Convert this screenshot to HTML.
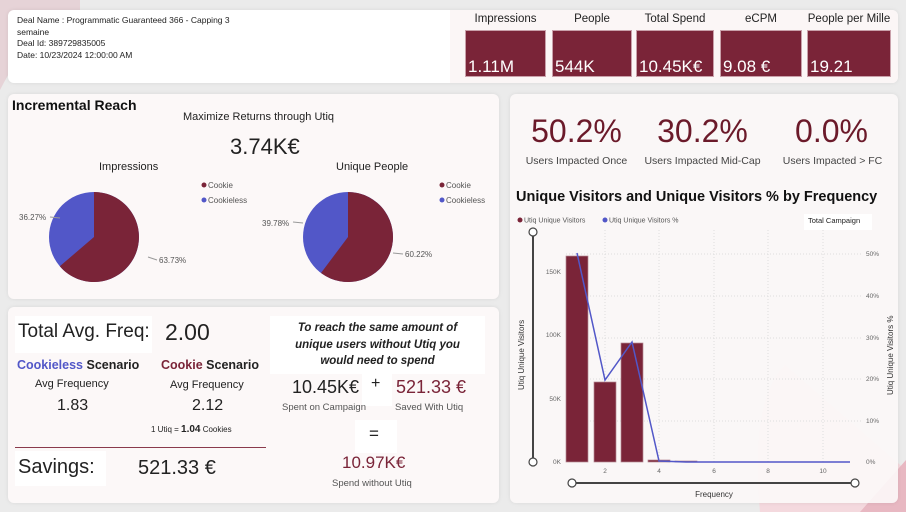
<!DOCTYPE html>
<html><head><meta charset="utf-8"><style>
*{margin:0;padding:0;box-sizing:border-box}
body{width:906px;height:512px;overflow:hidden;background:#ebebeb;font-family:"Liberation Sans",sans-serif;position:relative;color:#222}
.a{position:absolute;white-space:nowrap}
.p{position:absolute;background:#fcf8f8;border-radius:6px;box-shadow:0 0 4px rgba(0,0,0,.08)}
.tile{position:absolute;top:30px;height:47px;background:#7a2438;border:1px solid #c9a0aa;color:#fff;font-size:17px;padding:0 0 0 2px;line-height:17px}
.tile span{position:absolute;bottom:1px;left:2px}
.tl{position:absolute;top:13px;font-size:11.5px;text-align:center;color:#222;white-space:nowrap}
.c{text-align:center}
</style></head><body>
<svg class="a" style="left:0;top:0" width="906" height="512">
<path d="M0 0 L80 0 L80 10 Q30 30 0 90 Z" fill="#e6d3d7"/>
<path d="M760 512 Q750 400 785 365 L906 470 L906 512 Z" fill="#f4d9de"/>
<path d="M860 512 L906 460 L906 512 Z" fill="#e8b8c2"/>
</svg>
<div class="p" style="left:8px;top:10px;width:890px;height:73px;background:#fff"></div>
<div class="a" style="left:17px;top:15px;font-size:8.5px;line-height:11.5px;color:#222">Deal Name : Programmatic Guaranteed 366 - Capping 3<br>semaine<br>Deal Id: 389729835005<br>Date: 10/23/2024 12:00:00 AM</div>
<div class="a" style="left:450px;top:10px;width:448px;height:73px;background:#fbf6f6;border-radius:0 6px 6px 0"></div>
<div class="tl" style="left:465px;width:81px">Impressions</div>
<div class="tl" style="left:552px;width:80px">People</div>
<div class="tl" style="left:636px;width:78px">Total Spend</div>
<div class="tl" style="left:720px;width:82px">eCPM</div>
<div class="tl" style="left:805px;width:88px">People per Mille</div>
<div class="tile" style="left:465px;width:81px"><span>1.11M</span></div>
<div class="tile" style="left:552px;width:80px"><span>544K</span></div>
<div class="tile" style="left:636px;width:78px"><span>10.45K€</span></div>
<div class="tile" style="left:720px;width:82px"><span>9.08 €</span></div>
<div class="tile" style="left:807px;width:84px"><span>19.21</span></div>

<div class="p" style="left:8px;top:94px;width:491px;height:205px"></div>
<div class="a" style="left:12px;top:97px;font-size:14px;font-weight:bold;color:#111">Incremental Reach</div>
<div class="a" style="left:183px;top:111px;font-size:11px">Maximize Returns through Utiq</div>
<div class="a" style="left:230px;top:134px;font-size:22px">3.74K€</div>
<div class="a" style="left:99px;top:161px;font-size:11px">Impressions</div>
<div class="a" style="left:336px;top:161px;font-size:11px">Unique People</div>
<svg class="a" style="left:0;top:0" width="500" height="300">
<circle cx="94" cy="237" r="45" fill="#5257c8"/>
<path d="M94 237 L94 192 A45 45 0 1 1 59.8 266.3 Z" fill="#7a2438"/>
<circle cx="348" cy="237" r="45" fill="#5257c8"/>
<path d="M348 237 L348 192 A45 45 0 1 1 321 273 Z" fill="#7a2438"/>
<g fill="#555" font-size="8" font-family="Liberation Sans">
<text x="19" y="220">36.27%</text><line x1="50" y1="217" x2="60" y2="218" stroke="#999"/>
<text x="159" y="263">63.73%</text><line x1="148" y1="257" x2="157" y2="260" stroke="#999"/>
<text x="262" y="226">39.78%</text><line x1="293" y1="222" x2="303" y2="223" stroke="#999"/>
<text x="405" y="257">60.22%</text><line x1="393" y1="253" x2="403" y2="254" stroke="#999"/>
<circle cx="204" cy="185" r="2.5" fill="#7a2438"/><text x="208" y="188">Cookie</text>
<circle cx="204" cy="200" r="2.5" fill="#5257c8"/><text x="208" y="203">Cookieless</text>
<circle cx="442" cy="185" r="2.5" fill="#7a2438"/><text x="446" y="188">Cookie</text>
<circle cx="442" cy="200" r="2.5" fill="#5257c8"/><text x="446" y="203">Cookieless</text>
</g></svg>

<div class="p" style="left:8px;top:307px;width:491px;height:196px"></div>
<div class="a" style="left:15px;top:316px;width:137px;height:37px;background:#fff"></div>
<div class="a" style="left:18px;top:321px;font-size:19px">Total Avg. Freq:</div>
<div class="a" style="left:165px;top:319px;font-size:23px">2.00</div>
<div class="a" style="left:17px;top:358px;font-size:12.5px;font-weight:bold"><span style="color:#5257c8">Cookieless</span> Scenario</div>
<div class="a" style="left:161px;top:358px;font-size:12.5px;font-weight:bold"><span style="color:#7a2438">Cookie</span> Scenario</div>
<div class="a" style="left:35px;top:378px;font-size:11px">Avg Frequency</div>
<div class="a" style="left:170px;top:379px;font-size:11px">Avg Frequency</div>
<div class="a" style="left:57px;top:397px;font-size:16px">1.83</div>
<div class="a" style="left:192px;top:397px;font-size:16px">2.12</div>
<div class="a" style="left:151px;top:424px;font-size:8px">1 Utiq = <b style="font-size:10px">1.04</b> Cookies</div>
<div class="a" style="left:15px;top:447px;width:251px;height:1px;background:#8a3a4c"></div>
<div class="a" style="left:15px;top:451px;width:91px;height:35px;background:#fff"></div>
<div class="a" style="left:18px;top:456px;font-size:20px">Savings:</div>
<div class="a" style="left:138px;top:457px;font-size:20px">521.33 €</div>
<div class="a" style="left:270px;top:316px;width:215px;height:58px;background:#fff"></div>
<div class="a c" style="left:270px;top:320px;width:215px;font-size:11.5px;line-height:16.5px;font-weight:bold;font-style:italic">To reach the same amount of<br>unique users without Utiq you<br>would need to spend</div>
<div class="a" style="left:292px;top:377px;font-size:18px">10.45K€</div>
<div class="a" style="left:362px;top:374px;width:30px;height:32px;background:#fff"></div>
<div class="a" style="left:371px;top:375px;font-size:16px">+</div>
<div class="a" style="left:396px;top:377px;font-size:18px;color:#7a2438">521.33 €</div>
<div class="a" style="left:282px;top:402px;font-size:9.5px;color:#555">Spent on Campaign</div>
<div class="a" style="left:395px;top:402px;font-size:9.5px;color:#555">Saved With Utiq</div>
<div class="a" style="left:355px;top:420px;width:42px;height:33px;background:#fff"></div>
<div class="a" style="left:369px;top:424px;font-size:17px">=</div>
<div class="a" style="left:342px;top:453px;font-size:17px;color:#7a2438">10.97K€</div>
<div class="a" style="left:332px;top:478px;font-size:9.5px;color:#555">Spend without Utiq</div>

<div class="p" style="left:510px;top:94px;width:388px;height:409px;background:rgba(252,248,248,.9)"></div>
<div class="a c" style="left:520px;top:113px;width:113px;font-size:32px;color:#6b1a2a">50.2%</div>
<div class="a c" style="left:640px;top:113px;width:125px;font-size:32px;color:#6b1a2a">30.2%</div>
<div class="a c" style="left:775px;top:113px;width:113px;font-size:32px;color:#6b1a2a">0.0%</div>
<div class="a c" style="left:520px;top:155px;width:113px;font-size:10.5px;color:#444">Users Impacted Once</div>
<div class="a c" style="left:640px;top:155px;width:125px;font-size:10.5px;color:#444">Users Impacted Mid-Cap</div>
<div class="a c" style="left:775px;top:155px;width:115px;font-size:10.5px;color:#444">Users Impacted &gt; FC</div>
<div class="a" style="left:516px;top:189px;font-size:14.5px;font-weight:bold;color:#111">Unique Visitors and Unique Visitors % by Frequency</div>
<div class="a" style="left:804px;top:214px;width:68px;height:16px;background:#fff"></div>
<div class="a" style="left:808px;top:216px;font-size:7.5px">Total Campaign</div>
<svg class="a" style="left:500px;top:190px" width="406" height="322">
<g font-family="Liberation Sans" font-size="7" fill="#555">
<circle cx="20" cy="30" r="2.5" fill="#7a2438"/><text x="24" y="32.5">Utiq Unique Visitors</text>
<circle cx="105" cy="30" r="2.5" fill="#5257c8"/><text x="109" y="32.5">Utiq Unique Visitors %</text>
</g>
<g stroke="#ddd" stroke-dasharray="1,2">
<line x1="105" y1="40" x2="105" y2="272"/><line x1="159" y1="40" x2="159" y2="272"/><line x1="214" y1="40" x2="214" y2="272"/><line x1="268" y1="40" x2="268" y2="272"/><line x1="323" y1="40" x2="323" y2="272"/>
<line x1="66" y1="64" x2="362" y2="64"/><line x1="66" y1="106" x2="362" y2="106"/><line x1="66" y1="148" x2="362" y2="148"/><line x1="66" y1="189" x2="362" y2="189"/><line x1="66" y1="231" x2="362" y2="231"/>
</g>
<g fill="#7a2438" stroke="#b58a94" stroke-width="0.7">
<rect x="66" y="66" width="22" height="206"/>
<rect x="94" y="192" width="22" height="80"/>
<rect x="121" y="153" width="22" height="119"/>
<rect x="148" y="270" width="22" height="2"/>
<rect x="175" y="271" width="22" height="1"/>
</g>
<polyline points="77,63 105,190 132,152 159,271 186,272 350,272" fill="none" stroke="#5257c8" stroke-width="1.5"/>
<g font-family="Liberation Sans" font-size="6.5" fill="#666">
<text x="61" y="84" text-anchor="end">150K</text><text x="61" y="147" text-anchor="end">100K</text><text x="61" y="211" text-anchor="end">50K</text><text x="61" y="274" text-anchor="end">0K</text>
<text x="366" y="66">50%</text><text x="366" y="108">40%</text><text x="366" y="150">30%</text><text x="366" y="191">20%</text><text x="366" y="233">10%</text><text x="366" y="274">0%</text>
<text x="105" y="283" text-anchor="middle">2</text><text x="159" y="283" text-anchor="middle">4</text><text x="214" y="283" text-anchor="middle">6</text><text x="268" y="283" text-anchor="middle">8</text><text x="323" y="283" text-anchor="middle">10</text>
</g>
<text transform="translate(24,200) rotate(-90)" font-family="Liberation Sans" font-size="8" fill="#333">Utiq Unique Visitors</text>
<text transform="translate(393,205) rotate(-90)" font-family="Liberation Sans" font-size="8" fill="#333">Utiq Unique Visitors %</text>
<text x="214" y="307" text-anchor="middle" font-family="Liberation Sans" font-size="8" fill="#333">Frequency</text>
<line x1="33" y1="42" x2="33" y2="272" stroke="#444" stroke-width="2"/>
<circle cx="33" cy="42" r="4" fill="#fff" stroke="#444" stroke-width="1.2"/>
<circle cx="33" cy="272" r="4" fill="#fff" stroke="#444" stroke-width="1.2"/>
<line x1="72" y1="293" x2="355" y2="293" stroke="#444" stroke-width="2"/>
<circle cx="72" cy="293" r="4" fill="#fff" stroke="#444" stroke-width="1.2"/>
<circle cx="355" cy="293" r="4" fill="#fff" stroke="#444" stroke-width="1.2"/>
</svg>
</body></html>
